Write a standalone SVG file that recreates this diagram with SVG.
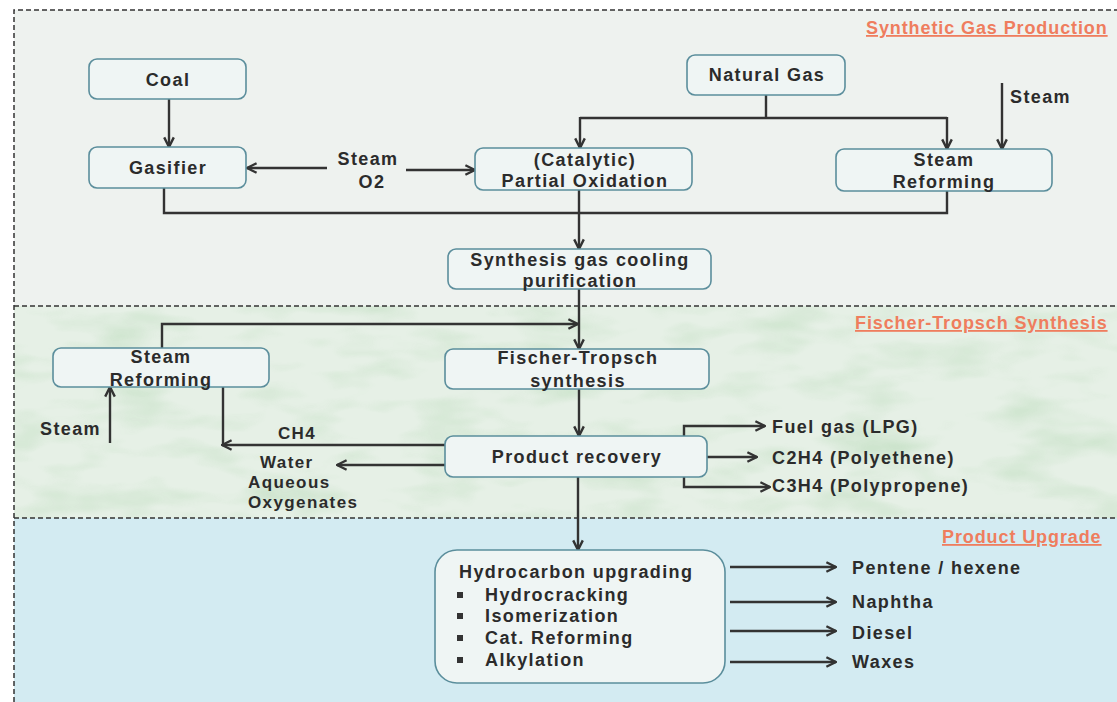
<svg xmlns="http://www.w3.org/2000/svg" width="1117" height="702" viewBox="0 0 1117 702">
<defs>
<style>
.box{fill:#eff5f4;stroke:#5b8e9c;stroke-width:1.6}
.t{font-family:"Liberation Sans",Arial,sans-serif;font-weight:700;font-size:18px;letter-spacing:1.4px;fill:#2b2b2b}
.s{font-size:17px}
.c{text-anchor:middle}
.ttl{font-family:"Liberation Sans",Arial,sans-serif;font-weight:700;font-size:18px;letter-spacing:0.9px;fill:#ef7d5e;text-decoration:underline}
.ln{fill:none;stroke:#333;stroke-width:2.4}
.ar{fill:none;stroke:#333;stroke-width:2.4;marker-end:url(#ah)}
.dash{fill:none;stroke:#333;stroke-width:1.5;stroke-dasharray:5 3}
.bul{fill:#333}
</style>
<marker id="ah" viewBox="0 0 10 10" refX="9" refY="5" markerWidth="12" markerHeight="12" markerUnits="userSpaceOnUse" orient="auto">
<path d="M1,1 L9,5 L1,9" fill="none" stroke="#333" stroke-width="2"/>
</marker>
<filter id="mottle" x="0" y="0" width="100%" height="100%">
<feTurbulence type="fractalNoise" baseFrequency="0.012 0.035" numOctaves="3" seed="4"/>
<feColorMatrix type="matrix" values="0 0 0 0 0.58  0 0 0 0 0.76  0 0 0 0 0.58  0 0 0 2.2 -1.0"/>
</filter>
</defs>
<rect width="1117" height="702" fill="#ffffff"/>
<g id="backgrounds">
<rect x="14" y="10" width="1103" height="296" fill="#eef2ef"/>
<rect x="14" y="306" width="1103" height="212" fill="#e6f0e6"/>
<rect x="14" y="306" width="1103" height="212" filter="url(#mottle)" opacity="0.85"/>
<rect x="14" y="518" width="1103" height="184" fill="#d3ebf2"/>
</g>
<g id="borders">
<path class="dash" d="M14,702 V10 H1117"/>
<path class="dash" d="M14,306 H1117"/>
<path class="dash" d="M14,518 H1117"/>
</g>
<g id="titles">
<text class="ttl" x="866" y="34">Synthetic Gas Production</text>
<text class="ttl" x="855" y="329">Fischer-Tropsch Synthesis</text>
<text class="ttl" x="942" y="543">Product Upgrade</text>
</g>
<g id="connectors">
<path class="ar" d="M169,99 V147"/>
<path class="ar" d="M327,168 H247"/>
<path class="ar" d="M406,170 H475"/>
<path class="ln" d="M766,95 V118 M580,118 H947"/>
<path class="ar" d="M580,117 V148"/>
<path class="ar" d="M947,117 V149"/>
<path class="ar" d="M1002,83 V149"/>
<path class="ln" d="M164,188 V213 H947 V191"/>
<path class="ar" d="M579,190 V249"/>
<path class="ar" d="M579,289 V349"/>
<path class="ar" d="M162,348 V324 H578"/>
<path class="ar" d="M110,443 V387"/>
<path class="ar" d="M579,389 V436"/>
<path class="ar" d="M445,445 H222"/>
<path class="ln" d="M223,446 V387"/>
<path class="ar" d="M445,465 H337"/>
<path class="ar" d="M684,436 V426 H765"/>
<path class="ar" d="M707,457 H757"/>
<path class="ar" d="M684,477 V487 H770"/>
<path class="ar" d="M578,477 V550"/>
<path class="ar" d="M730,567 H836"/>
<path class="ar" d="M730,602 H836"/>
<path class="ar" d="M730,631 H836"/>
<path class="ar" d="M730,662 H836"/>
</g>
<g id="coal">
<rect class="box" x="89" y="59" width="157" height="40" rx="8"/>
<text class="t c" x="168" y="86">Coal</text>
</g>
<g id="gasifier">
<rect class="box" x="89" y="147" width="157" height="41" rx="8"/>
<text class="t c" x="168" y="174">Gasifier</text>
</g>
<g id="steam-o2">
<text class="t c" x="368" y="165">Steam</text>
<text class="t c" x="372" y="188">O2</text>
</g>
<g id="partial-oxidation">
<rect class="box" x="475" y="148" width="217" height="42" rx="8"/>
<text class="t c" x="585" y="166">(Catalytic)</text>
<text class="t c" x="585" y="187">Partial Oxidation</text>
</g>
<g id="natural-gas">
<rect class="box" x="687" y="55" width="158" height="40" rx="8"/>
<text class="t c" x="767" y="81">Natural Gas</text>
</g>
<g id="steam-top">
<text class="t" x="1010" y="103">Steam</text>
</g>
<g id="steam-reforming-1">
<rect class="box" x="836" y="149" width="216" height="42" rx="8"/>
<text class="t c" x="944" y="166">Steam</text>
<text class="t c" x="944" y="188">Reforming</text>
</g>
<g id="synthesis-gas">
<rect class="box" x="448" y="249" width="263" height="40" rx="8"/>
<text class="t c" x="580" y="266">Synthesis gas cooling</text>
<text class="t c" x="580" y="287">purification</text>
</g>
<g id="steam-reforming-2">
<rect class="box" x="53" y="348" width="216" height="39" rx="8"/>
<text class="t c" x="161" y="363">Steam</text>
<text class="t c" x="161" y="386">Reforming</text>
</g>
<g id="steam-left">
<text class="t" x="40" y="435">Steam</text>
</g>
<g id="fischer-tropsch">
<rect class="box" x="445" y="349" width="264" height="40" rx="8"/>
<text class="t c" x="578" y="364">Fischer-Tropsch</text>
<text class="t c" x="578" y="387">synthesis</text>
</g>
<g id="product-recovery">
<rect class="box" x="445" y="436" width="262" height="41" rx="8"/>
<text class="t c" x="577" y="463">Product recovery</text>
</g>
<g id="ch4"><text class="t c s" x="297" y="439">CH4</text></g>
<g id="water">
<text class="t s" x="260" y="468">Water</text>
<text class="t s" x="248" y="488">Aqueous</text>
<text class="t s" x="248" y="508">Oxygenates</text>
</g>
<g id="fuel-gas"><text class="t" x="772" y="433">Fuel gas (LPG)</text></g>
<g id="c2h4"><text class="t" x="772" y="464">C2H4 (Polyethene)</text></g>
<g id="c3h4"><text class="t" x="772" y="492">C3H4 (Polypropene)</text></g>
<g id="hydrocarbon-upgrading">
<rect class="box" x="435" y="550" width="290" height="133" rx="22"/>
<text class="t" x="459" y="578">Hydrocarbon upgrading</text>
<rect class="bul" x="457" y="592" width="6" height="6"/>
<rect class="bul" x="457" y="613" width="6" height="6"/>
<rect class="bul" x="457" y="635" width="6" height="6"/>
<rect class="bul" x="457" y="657" width="6" height="6"/>
<text class="t" x="485" y="601">Hydrocracking</text>
<text class="t" x="485" y="622">Isomerization</text>
<text class="t" x="485" y="644">Cat. Reforming</text>
<text class="t" x="485" y="666">Alkylation</text>
</g>
<g id="outputs">
<text class="t" x="852" y="574">Pentene / hexene</text>
<text class="t" x="852" y="608">Naphtha</text>
<text class="t" x="852" y="639">Diesel</text>
<text class="t" x="852" y="668">Waxes</text>
</g>
</svg>
